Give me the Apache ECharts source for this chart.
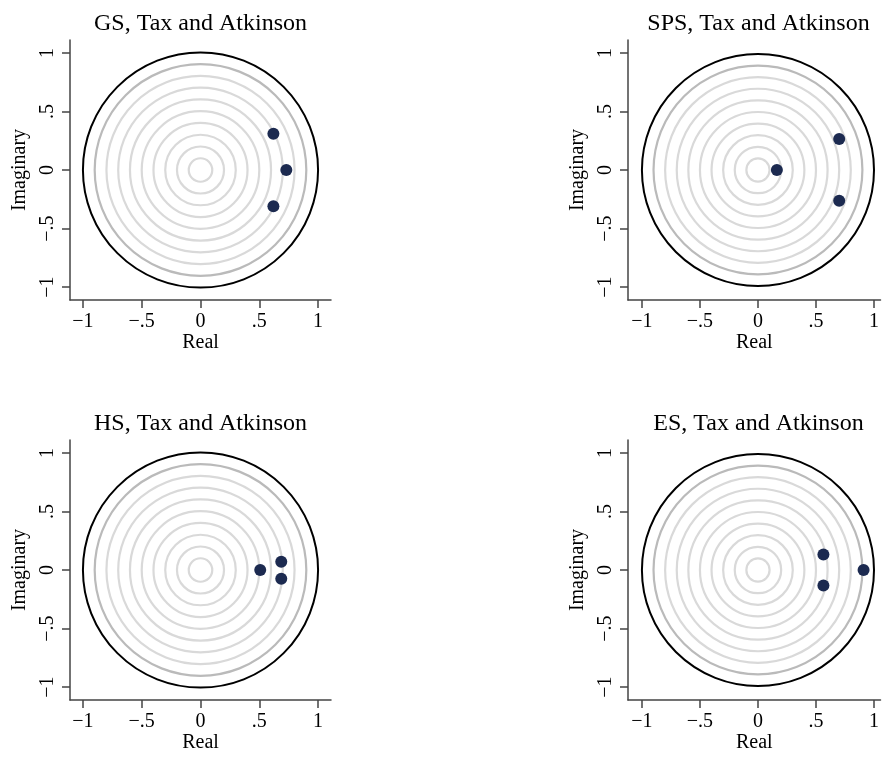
<!DOCTYPE html>
<html>
<head>
<meta charset="utf-8">
<script src="https://cdn.jsdelivr.net/npm/echarts@6/dist/echarts.min.js"></script>
<style>
  html, body { margin: 0; padding: 0; background: #fff; }
  #chart { width: 882px; height: 758px; }
</style>
</head>
<body>
<div id="chart"></div>
<script>
// Eigenvalues of the companion matrix for each specification (real, imaginary)
const panelTitles = ['GS, Tax and Atkinson', 'SPS, Tax and Atkinson', 'HS, Tax and Atkinson', 'ES, Tax and Atkinson'];
const rootsGS  = [[0.62, 0.31], [0.73, 0.0], [0.62, -0.31]];
const rootsSPS = [[0.70, 0.265], [0.163, 0.0], [0.70, -0.262]];
const rootsHS  = [[0.508, 0.0], [0.687, 0.07], [0.687, -0.075]];
const rootsES  = [[0.564, 0.132], [0.91, 0.0], [0.564, -0.133]];
const panelRoots = [rootsGS, rootsSPS, rootsHS, rootsES];

// Reference circles (radius in axis units)
const ringRadii = [0.1, 0.2, 0.3, 0.4, 0.5, 0.6, 0.7, 0.8, 0.9, 1.0];
const tickValues = [-1, -0.5, 0, 0.5, 1];

const FONT = '"Liberation Serif", "DejaVu Serif", serif';
const axisColor = '#444';

function fmt(v) {
  if (v === 0) return '0';
  const s = Math.abs(v) === 1 ? '1' : String(Math.abs(v)).replace(/^0/, '');
  return (v < 0 ? '\u2212' : '') + s;
}

// Right-hand panels run off the page edge, so their x range is cut short there.
const layout = [
  { left: 70,  top: 40,  width: 261, xmin: -1.11, xmax: 1.11,  cx: 195.5, ty: 7 },
  { left: 628, top: 40,  width: 254, xmin: -1.12, xmax: 1.056, cx: 753.5, ty: 7 },
  { left: 70,  top: 440, width: 261, xmin: -1.11, xmax: 1.11,  cx: 195.5, ty: 407 },
  { left: 628, top: 440, width: 254, xmin: -1.12, xmax: 1.056, cx: 753.5, ty: 407 }
];

const grids = [], xAxes = [], yAxes = [], series = [], titles = [];

layout.forEach((p, i) => {
  grids.push({ left: p.left, top: p.top, width: p.width, height: 260, containLabel: false });
  titles.push({
    text: panelTitles[i], left: p.cx, top: p.ty, textAlign: 'center',
    textStyle: { fontFamily: FONT, fontSize: 24, fontWeight: 'normal', color: '#000' }
  });
  const common = {
    type: 'value', gridIndex: i,
    splitLine: { show: false },
    axisLine: { show: true, onZero: false, lineStyle: { color: axisColor, width: 1.5 } },
    axisTick: { show: true, customValues: tickValues, length: 8, inside: false, lineStyle: { color: axisColor, width: 1.5 } },
    axisLabel: { customValues: tickValues, formatter: fmt, fontFamily: FONT, fontSize: 20, color: '#000' },
    nameLocation: 'middle',
    nameTextStyle: { fontFamily: FONT, fontSize: 20, color: '#000' }
  };
  xAxes.push(Object.assign({}, common, {
    position: 'bottom', name: 'Real', nameGap: 33, min: p.xmin, max: p.xmax,
    axisLabel: Object.assign({}, common.axisLabel, { margin: 12 })
  }));
  yAxes.push(Object.assign({}, common, {
    position: 'left', name: 'Imaginary', nameGap: 40, min: -1.11, max: 1.11,
    axisLabel: Object.assign({}, common.axisLabel, { rotate: 90, margin: 12 })
  }));

  series.push({
    type: 'custom', xAxisIndex: i, yAxisIndex: i, silent: true, clip: false, z: 1,
    data: ringRadii.map(r => [r, 0]),
    renderItem: function (params, api) {
      const r = api.value(0);
      const c = api.coord([0, 0]);
      const s = api.size([r, r]);
      let stroke = '#d9d9d9', lw = 2.2;
      if (r === 1.0) { stroke = '#000'; lw = 2; }
      else if (r === 0.9) { stroke = '#bababa'; lw = 2.2; }
      return {
        type: 'circle',
        shape: { cx: c[0], cy: c[1], r: s[0] },
        style: { fill: 'none', stroke: stroke, lineWidth: lw }
      };
    }
  });
  series.push({
    type: 'scatter', xAxisIndex: i, yAxisIndex: i, z: 3,
    symbol: 'circle', symbolSize: 12,
    itemStyle: { color: '#1c2a50', opacity: 1 },
    data: panelRoots[i]
  });
});

const chart = echarts.init(document.getElementById('chart'), null, { renderer: 'canvas' });
chart.setOption({
  animation: false,
  backgroundColor: '#fff',
  title: titles,
  grid: grids,
  xAxis: xAxes,
  yAxis: yAxes,
  series: series
});
</script>
</body>
</html>
